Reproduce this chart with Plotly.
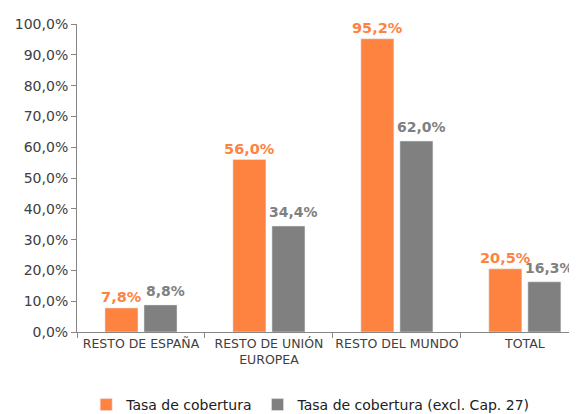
import plotly.graph_objects as go

categorias = ["RESTO DE ESPAÑA", "RESTO DE UNIÓN<br>EUROPEA", "RESTO DEL MUNDO", "TOTAL"]
tasa = [7.8, 56.0, 95.2, 20.5]
tasa_excl = [8.8, 34.4, 62.0, 16.3]
y_ticks = list(range(0, 101, 10))

naranja = "#FF8340"
gris = "#808080"
fuente = "DejaVu Sans, Verdana, sans-serif"


def etiqueta(v):
    return f"{v:.1f}%".replace(".", ",")


fig = go.Figure()
fig.add_bar(x=categorias, y=tasa, name="Tasa de cobertura", marker_color=naranja,
            text=[etiqueta(v) for v in tasa], textposition="outside", constraintext="none",
            textfont=dict(color=naranja, size=14.5, family=fuente, weight="bold"),
            cliponaxis=False)
fig.add_bar(x=categorias, y=tasa_excl, name="Tasa de cobertura (excl. Cap. 27)", marker_color=gris,
            cliponaxis=False)

# etiquetas grises desplazadas a la derecha, como en el original
for c, v in zip(categorias, tasa_excl):
    fig.add_annotation(x=c, y=v, text=etiqueta(v), showarrow=False,
                       xanchor="center", yanchor="bottom", xshift=25, yshift=4,
                       font=dict(color=gris, size=14, family=fuente, weight="bold"))

fig.update_layout(
    width=577, height=414,
    margin=dict(l=69, r=0, t=16, b=90),
    plot_bgcolor="white", paper_bgcolor="white",
    font=dict(family=fuente, color="#404040", size=12),
    barmode="group", bargap=0.39, bargroupgap=0.154,
    showlegend=True,
    legend=dict(orientation="h", x=0.46, xanchor="center", y=-0.237, yanchor="middle",
                font=dict(size=14, color="#202020"), traceorder="normal",
                itemwidth=30, tracegroupgap=0),
)
fig.update_xaxes(range=[-0.5, 3.47], showline=True, linecolor="#868686", linewidth=1,
                 ticks="outside", tickson="boundaries", ticklen=5, tickcolor="#868686",
                 tickangle=0, tickfont=dict(size=12.5, color="#404040"), automargin=False)
fig.update_yaxes(range=[0, 100], tickvals=y_ticks, ticktext=[etiqueta(v) for v in y_ticks],
                 showgrid=False, zeroline=False, showline=True, linecolor="#868686", linewidth=1,
                 ticks="outside", ticklen=5, tickcolor="#868686",
                 tickfont=dict(size=14, color="#404040"), automargin=False)

fig.write_html("out.html")
